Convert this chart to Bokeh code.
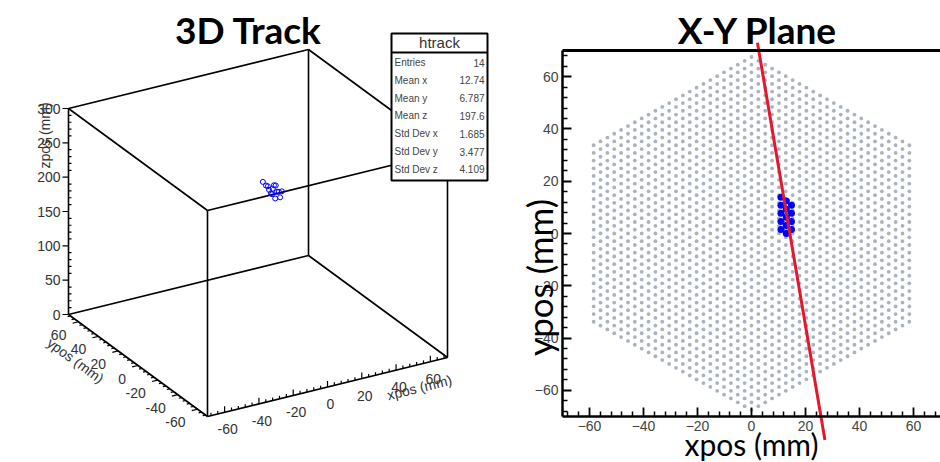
import numpy as np
from bokeh.plotting import figure
from bokeh.layouts import row
from bokeh.models import Range1d, LinearAxis, FixedTicker, Label
from bokeh.core.properties import value
from bokeh.embed import file_html
from bokeh.resources import INLINE

# ---------------- data ----------------
hit_x = [10.9, 10.9, 10.9, 10.9, 10.9, 12.9, 12.9, 12.9, 12.9, 12.9, 14.8, 14.8, 14.8, 14.8]
hit_y = [1.5, 4.6, 7.7, 10.8, 13.9, 0.0, 3.1, 6.2, 9.3, 12.4, 1.5, 4.6, 7.7, 10.8]
hit_z = [192, 195, 198, 201, 203, 194, 199, 205, 190, 197, 200, 196, 202, 194]
track_x = [2.2, 27.2]
track_y = [73.0, -79.0]
stat_names = ["Entries", "Mean x", "Mean y", "Mean z", "Std Dev x", "Std Dev y", "Std Dev z"]
stat_values = ["14", "12.74", "6.787", "197.6", "1.685", "3.477", "4.109"]
xy_major = [-60, -40, -20, 0, 20, 40, 60]
xy_minor = [-68, -64, -56, -52, -48, -44, -36, -32, -28, -24, -16, -12, -8, -4,
            4, 8, 12, 16, 24, 28, 32, 36, 44, 48, 52, 56, 64, 68]
z_major = [0, 50, 100, 150, 200, 250, 300]
z_minor = [10, 20, 30, 40, 60, 70, 80, 90, 110, 120, 130, 140, 160, 170, 180, 190,
           210, 220, 230, 240, 260, 270, 280, 290]
x_lim = [-70, 70]
y_lim = [-70, 70]
z_lim = [0, 300]
grid_pitch = 2.935  # mm between neighbouring sensor pads
grid_rings = 24     # rings of pads around the centre one

H = 462
W1 = 500
W2 = 440

SANS = "Liberation Sans"
TITLE_FONT = "Lato"

# ---------------- left panel: 3D view ----------------
ORIGIN = (207.0, 46.0)
EX = (240.0, 59.0)
EY = (-139.0, 102.0)
EZ = (0.0, 206.0)


def proj(x, y, z):
    x = np.asarray(x, dtype=float)
    y = np.asarray(y, dtype=float)
    z = np.asarray(z, dtype=float)
    u = (x - x_lim[0]) / (x_lim[1] - x_lim[0])
    v = (y - y_lim[0]) / (y_lim[1] - y_lim[0])
    w = (z - z_lim[0]) / (z_lim[1] - z_lim[0])
    return (ORIGIN[0] + u * EX[0] + v * EY[0] + w * EZ[0],
            ORIGIN[1] + u * EX[1] + v * EY[1] + w * EZ[1])


p1 = figure(width=W1, height=H, x_range=Range1d(0, W1), y_range=Range1d(0, H),
            toolbar_location=None, output_backend="svg", min_border=0,
            x_axis_location=None, y_axis_location=None, outline_line_color=None)
p1.grid.visible = False

corners = [(a, b, c) for a in x_lim for b in y_lim for c in z_lim]
ex_, ey_ = [], []
for i, ca in enumerate(corners):
    for cb in corners[i + 1:]:
        if sum(1 for s, t in zip(ca, cb) if s != t) == 1:
            xa, ya = proj(*ca)
            xb, yb = proj(*cb)
            ex_.append([float(xa), float(xb)])
            ey_.append([float(ya), float(yb)])
p1.multi_line(ex_, ey_, line_color="black", line_width=1.6)

tick_kw = dict(line_color="black", line_width=1.2)
lab_kw = dict(text_font=value(SANS), text_font_size="14px", text_color="#333333")

# z axis (x=-70, y=+70)
n = len(z_major)
zx, zy = proj([x_lim[0]] * n, [y_lim[1]] * n, z_major)
p1.segment(x0=zx, y0=zy, x1=zx - 6, y1=zy, **tick_kw)
m = len(z_minor)
zmx, zmy = proj([x_lim[0]] * m, [y_lim[1]] * m, z_minor)
p1.segment(x0=zmx, y0=zmy, x1=zmx + 3, y1=zmy, **tick_kw)
p1.text(x=zx - 8, y=zy, text=[str(v) for v in z_major], text_align="right",
        text_baseline="middle", **lab_kw)

# x axis (y=-70, z=0)
n = len(xy_major)
xx, xy = proj(xy_major, [y_lim[0]] * n, [z_lim[0]] * n)
p1.segment(x0=xx, y0=xy, x1=xx, y1=xy + 6, **tick_kw)
m = len(xy_minor)
xmx, xmy = proj(xy_minor, [y_lim[0]] * m, [z_lim[0]] * m)
p1.segment(x0=xmx, y0=xmy, x1=xmx, y1=xmy + 3, **tick_kw)
p1.text(x=xx + 3, y=xy - 17, text=[str(v) for v in xy_major], text_align="center",
        text_baseline="middle", **lab_kw)

# y axis (x=-70, z=0)
yx, yy = proj([x_lim[0]] * n, xy_major, [z_lim[0]] * n)
dx, dy = -EX[0] / np.hypot(*EX), -EX[1] / np.hypot(*EX)
p1.segment(x0=yx, y0=yy, x1=yx + 6 * dx, y1=yy + 6 * dy, **tick_kw)
ymx, ymy = proj([x_lim[0]] * m, xy_minor, [z_lim[0]] * m)
p1.segment(x0=ymx, y0=ymy, x1=ymx + 3 * dx, y1=ymy + 3 * dy, **tick_kw)
p1.text(x=yx - 12, y=yy - 13, text=[str(v) for v in xy_major], text_align="right",
        text_baseline="middle", **lab_kw)

# axis titles of the 3D view
p1.text(x=[419], y=[75], text=["xpos (mm)"], angle=np.arctan2(EX[1], EX[0]),
        text_align="center", text_baseline="middle", **lab_kw)
p1.text(x=[75], y=[102], text=["ypos (mm)"], angle=np.arctan2(EY[1], EY[0]) + np.pi,
        text_align="center", text_baseline="middle", **lab_kw)
p1.text(x=[44], y=[327], text=["zpos (mm)"], angle=np.pi / 2,
        text_align="center", text_baseline="middle", **lab_kw)

# hits
hx, hy = proj(hit_x, hit_y, hit_z)
p1.scatter(hx, hy, marker="circle", size=5, fill_color=None, line_color="blue", line_width=1)

# stats box
p1.quad(left=[391], right=[487], top=[429], bottom=[282], fill_color="white",
        line_color="black", line_width=2)
p1.segment(x0=[391], y0=[410], x1=[487], y1=[410], line_color="black", line_width=2)
p1.text(x=[439], y=[420], text=["htrack"], text_align="center", text_baseline="middle",
        text_font=value(SANS), text_font_size="15px", text_color="#333333")
row_y = [400 - 17.8 * i for i in range(len(stat_names))]
p1.text(x=[394] * len(stat_names), y=row_y, text=stat_names, text_align="left",
        text_baseline="middle", text_font=value(SANS), text_font_size="10px",
        text_color="#444444")
p1.text(x=[484] * len(stat_values), y=row_y, text=stat_values, text_align="right",
        text_baseline="middle", text_font=value(SANS), text_font_size="10px",
        text_color="#444444")

# title of left panel
p1.text(x=[248], y=[433], text=["3D Track"], text_align="center", text_baseline="middle",
        text_font=value(TITLE_FONT), text_font_size="37px", text_font_style="bold",
        text_color="black")

# ---------------- right panel: X-Y plane ----------------
# the frame fills the whole panel; the axes box (-70..70) sits inside it
FRAME_L, FRAME_R = 62, 0      # px from panel edges to the axes box
FRAME_T, FRAME_B = 50, 46
sx = (W2 - FRAME_L - FRAME_R) / (x_lim[1] - x_lim[0])
sy = (H - FRAME_T - FRAME_B) / (y_lim[1] - y_lim[0])
p2 = figure(width=W2, height=H,
            x_range=Range1d(x_lim[0] - FRAME_L / sx, x_lim[1] + FRAME_R / sx),
            y_range=Range1d(y_lim[0] - FRAME_B / sy, y_lim[1] + FRAME_T / sy),
            toolbar_location=None, output_backend="svg", min_border=0,
            x_axis_location=None, y_axis_location=None, outline_line_color=None)
p2.grid.visible = False

# sensor grid (hexagonal lattice)
nr = grid_rings - 1
col = grid_pitch * np.sqrt(3) / 2
gx, gy = [], []
for q in range(-nr, nr + 1):
    for r in range(-nr, nr + 1):
        if abs(q + r) <= nr:
            gx.append(q * col)
            gy.append((r + q / 2) * grid_pitch)
p2.scatter(gx, gy, marker="circle", size=3.8, fill_color="#a9b3c0", line_color=None)
p2.scatter(hit_x, hit_y, marker="circle", size=7, fill_color="blue", line_color=None)
p2.line(track_x, track_y, line_color="#e3172d", line_width=3)
p2.line(x_lim, [y_lim[1], y_lim[1]], line_color="black", line_width=3)

axis_style = dict(axis_line_width=2.5, major_tick_in=9, major_tick_out=0,
                  minor_tick_in=5, minor_tick_out=0, major_tick_line_width=1.8,
                  minor_tick_line_width=1.5,
                  major_label_text_font=SANS, major_label_text_font_size="14px",
                  major_label_text_color="#444444")
xaxis = LinearAxis(fixed_location=y_lim[0], bounds=(x_lim[0], x_lim[1]),
                   ticker=FixedTicker(ticks=xy_major, minor_ticks=xy_minor),
                   axis_label="xpos (mm)", axis_label_standoff=-8,
                   axis_label_text_font=TITLE_FONT, axis_label_text_font_size="30px",
                   axis_label_text_font_style="normal", axis_label_text_color="black",
                   major_label_standoff=4, **axis_style)
p2.add_layout(xaxis, "below")
yaxis = LinearAxis(fixed_location=x_lim[0], bounds=(y_lim[0], y_lim[1]),
                   ticker=FixedTicker(ticks=xy_major, minor_ticks=xy_minor),
                   major_label_standoff=4, **axis_style)
p2.add_layout(yaxis, "left")

p2.add_layout(Label(x=-78.6, y=-16.8, text="ypos (mm)", angle=np.pi / 2,
                    text_align="center", text_baseline="middle",
                    text_font=TITLE_FONT, text_font_size="35px", text_color="black"))
p2.add_layout(Label(x=2.3, y=78.0, text="X-Y Plane", text_align="center",
                    text_baseline="middle", text_font=TITLE_FONT,
                    text_font_size="37px", text_font_style="bold", text_color="black"))

layout = row(p1, p2)
open("out.html", "w").write(file_html(layout, INLINE))
